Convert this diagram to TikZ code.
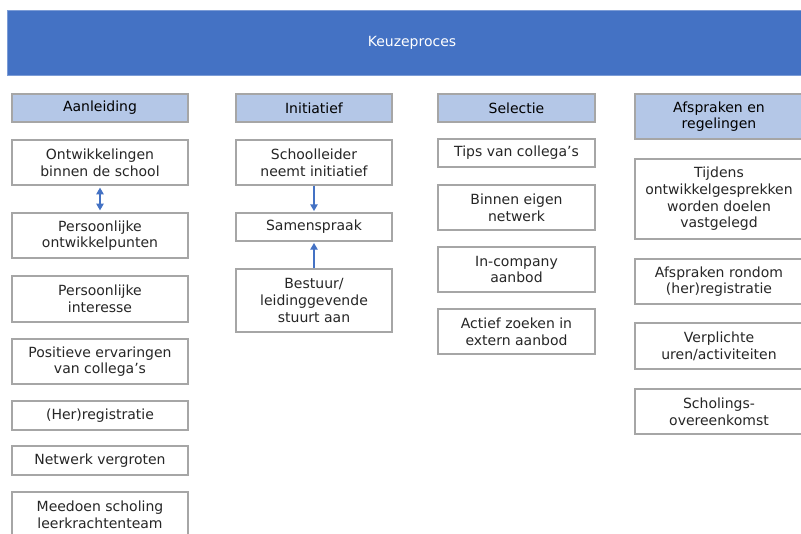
\documentclass[tikz,border=0pt]{standalone}
\usepackage{fontspec}
\setmainfont{DejaVu Sans}
\usetikzlibrary{arrows.meta}
\definecolor{bannerblue}{HTML}{4472C4}
\definecolor{headblue}{HTML}{B4C7E7}
\definecolor{edgegray}{HTML}{A6A6A6}
\definecolor{inkgray}{HTML}{262626}
\newcommand\cellfont{\fontsize{10.5}{12.5}\selectfont}
\begin{document}
\begin{tikzpicture}[x=0.75pt,y=-0.75pt,
  sz/.style 2 args={minimum width=#1*0.75pt, minimum height=#2*0.75pt},
  cell/.style={draw=edgegray, line width=0.9pt, fill=white, align=center,
    font=\cellfont, text=inkgray, inner sep=1pt},
  head/.style={cell, fill=headblue, text=black},
  banner/.style={fill=bannerblue, draw=bannerblue!70!white, line width=0.6pt,
    text=white, font=\cellfont},
  link/.style={draw=bannerblue, line width=0.9pt,
    arrows={-Triangle[length=5pt,width=5.5pt]}}]
\useasboundingbox (0,0) rectangle (801,533);

% title banner
\node[banner, sz={810}{65}] (title) at (412,42.5) {Keuzeproces};

% column headers
\node[head, sz={176}{28}] (h1) at (100,108) {Aanleiding};
\node[head, sz={156}{28}] (h2) at (314,108) {Initiatief};
\node[head, sz={157}{28}] (h3) at (516.5,108) {Selectie};
\node[head, sz={168}{45}] (h4) at (719,116.5) {Afspraken en\\regelingen};

% Aanleiding
\node[cell, sz={176}{45}] (a1) at (100,162.5) {Ontwikkelingen\\binnen de school};
\node[cell, sz={176}{45}] (a2) at (100,235.5) {Persoonlijke\\ontwikkelpunten};
\node[cell, sz={176}{46}] (a3) at (100,299) {Persoonlijke\\interesse};
\node[cell, sz={176}{45}] (a4) at (100,361.5) {Positieve ervaringen\\van collega’s};
\node[cell, sz={176}{29}] (a5) at (100,415.5) {(Her)registratie};
\node[cell, sz={176}{29}] (a6) at (100,460.5) {Netwerk vergroten};
\node[cell, sz={176}{46}] (a7) at (100,515) {Meedoen scholing\\leerkrachtenteam};

% Initiatief
\node[cell, sz={156}{45}] (b1) at (314,162.5) {Schoolleider\\neemt initiatief};
\node[cell, sz={156}{28}] (b2) at (314,227) {Samenspraak};
\node[cell, sz={156}{63}] (b3) at (314,300.5) {Bestuur/\\leidinggevende\\stuurt aan};

% Selectie
\node[cell, sz={157}{28}] (c1) at (516.5,153) {Tips van collega’s};
\node[cell, sz={157}{45}] (c2) at (516.5,207.5) {Binnen eigen\\netwerk};
\node[cell, sz={157}{45}] (c3) at (516.5,269.5) {In-company\\aanbod};
\node[cell, sz={157}{45}] (c4) at (516.5,331.5) {Actief zoeken in\\extern aanbod};

% Afspraken en regelingen
\node[cell, sz={168}{80}] (d1) at (719,199) {Tijdens\\ontwikkelgesprekken\\worden doelen\\vastgelegd};
\node[cell, sz={168}{45}] (d2) at (719,281.5) {Afspraken rondom\\(her)registratie};
\node[cell, sz={168}{46}] (d3) at (719,346) {Verplichte\\uren/activiteiten};
\node[cell, sz={168}{45}] (d4) at (719,411.5) {Scholings-\\overeenkomst};

% connectors
\draw[link, arrows={Triangle[length=5pt,width=5.5pt]-Triangle[length=5pt,width=5.5pt]}]
  ([yshift=-1.5pt]a1.south) -- ([yshift=1.5pt]a2.north);
\draw[link] (b1.south) -- ([yshift=1pt]b2.north);
\draw[link] (b3.north) -- ([yshift=-1pt]b2.south);
\end{tikzpicture}
\end{document}
